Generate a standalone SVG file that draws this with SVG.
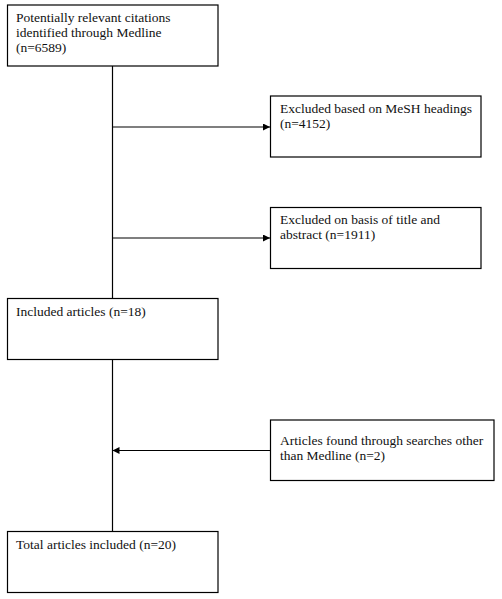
<svg xmlns="http://www.w3.org/2000/svg" width="502" height="599" viewBox="0 0 502 599">
<style>
.box{fill:#fff;stroke:#000;stroke-width:1.2}
.c{stroke:#000;stroke-width:1.2;fill:none}
</style>
<defs>
<marker id="ah" viewBox="0 0 10 10" refX="10" refY="5" markerWidth="7" markerHeight="7" markerUnits="userSpaceOnUse" orient="auto">
<path d="M0,0 L10,5 L0,10 z" fill="#000"/>
</marker>
</defs>
<rect width="502" height="599" fill="#fff"/>
<g id="connectors">
<line class="c" x1="112.5" y1="66" x2="112.5" y2="298"/>
<line class="c" x1="112.5" y1="359" x2="112.5" y2="532"/>
<line class="c" x1="112.5" y1="127" x2="270" y2="127" marker-end="url(#ah)"/>
<line class="c" x1="112.5" y1="238" x2="270" y2="238" marker-end="url(#ah)"/>
<line class="c" x1="270" y1="450.5" x2="112.5" y2="450.5" marker-end="url(#ah)"/>
</g>
<g font-family="Liberation Serif, serif" font-size="13.5" fill="#111">
<g id="n1">
<rect class="box" x="7.5" y="5" width="210.5" height="61"/>
<text x="16" y="22">Potentially relevant citations</text>
<text x="16" y="37">identified through Medline</text>
<text x="16" y="52">(n=6589)</text>
</g>
<g id="n2">
<rect class="box" x="270.5" y="96" width="210.5" height="61"/>
<text x="280" y="113">Excluded based on MeSH headings</text>
<text x="280" y="128">(n=4152)</text>
</g>
<g id="n3">
<rect class="box" x="270.5" y="207.5" width="210.5" height="61"/>
<text x="280" y="224">Excluded on basis of title and</text>
<text x="280" y="239">abstract (n=1911)</text>
</g>
<g id="n4">
<rect class="box" x="7.5" y="298.5" width="210.5" height="61"/>
<text x="16" y="316">Included articles (n=18)</text>
</g>
<g id="n5">
<rect class="box" x="270.5" y="420" width="223.5" height="60.5"/>
<text x="280" y="445">Articles found through searches other</text>
<text x="280" y="460">than Medline (n=2)</text>
</g>
<g id="n6">
<rect class="box" x="7.5" y="531.5" width="210.5" height="61"/>
<text x="16" y="549">Total articles included (n=20)</text>
</g>
</g>
</svg>
